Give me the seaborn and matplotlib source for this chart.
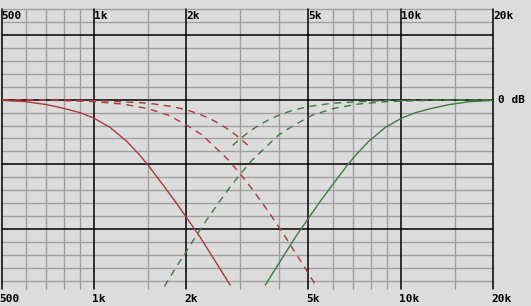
import matplotlib
matplotlib.use("Agg")
import matplotlib.pyplot as plt
import seaborn as sns
import pandas as pd
from matplotlib.ticker import NullLocator
from matplotlib.transforms import blended_transform_factory, offset_copy

# ---- data (frequency in Hz, level in dB) ----
lp_solid_hz = [500, 600, 700, 800, 900, 1000, 1130, 1280, 1400, 1500, 1680, 1850, 2000, 2220, 2440, 2780]
lp_solid_db = [-0.1, -0.3, -0.75, -1.35, -2.0, -2.85, -4.3, -6.45, -8.4, -10.1, -13.2, -15.9, -18.2, -21.3, -24.4, -28.7]

hp_solid_hz = [3615, 4120, 4530, 5025, 5430, 5980, 6700, 7180, 7850, 8890, 10050, 11170, 12560, 14360, 16750, 20000]
hp_solid_db = [-28.7, -24.4, -21.3, -18.2, -15.9, -13.2, -10.1, -8.4, -6.45, -4.3, -2.85, -2.0, -1.35, -0.75, -0.3, -0.1]

lp_dash_a_hz = [500, 700, 1000, 1250, 1500, 1750, 2000, 2250, 2500, 2750, 3000, 3250, 3500, 3750,
                4000, 4250, 4500, 4750, 5000, 5200, 5300]
lp_dash_a_db = [-0.02, -0.07, -0.29, -0.69, -1.38, -2.4, -3.9, -5.44, -7.5, -9.37, -11.5, -13.6, -15.7, -17.7,
                -19.7, -21.6, -23.5, -25.2, -26.9, -28.2, -28.9]

hp_dash_a_hz = [1698, 1731, 1800, 1895, 2000, 2118, 2250, 2400, 2571, 2769, 3000, 3273, 3600, 4000,
                4500, 5143, 6000, 7200, 9000, 12860, 18000, 20000]
hp_dash_a_db = [-28.9, -28.2, -26.9, -25.2, -23.5, -21.6, -19.7, -17.7, -15.7, -13.6, -11.5, -9.37, -7.5, -5.44,
                -3.9, -2.4, -1.38, -0.69, -0.29, -0.07, -0.02, 0.0]

lp_dash_b_hz = [500, 1000, 1500, 1800, 2000, 2200, 2400, 2600, 2800, 3000, 3180]
lp_dash_b_db = [0.0, -0.1, -0.53, -1.06, -1.56, -2.2, -2.98, -3.89, -4.9, -6.02, -7.09]

hp_dash_b_hz = [2830, 3000, 3214, 3462, 3750, 4091, 4500, 5000, 6000, 9000, 18000, 20000]
hp_dash_b_db = [-7.09, -6.02, -4.9, -3.89, -2.98, -2.2, -1.56, -1.06, -0.53, -0.1, 0.0, 0.0]

major_hz = [500, 1000, 2000, 5000, 10000, 20000]
major_labels = ["500", "1k", "2k", "5k", "10k", "20k"]
minor_hz = [600, 700, 800, 900, 1500, 3000, 4000, 6000, 7000, 8000, 9000, 15000]
db_major = [10, 0, -10, -20]
db_minor = [14, 12, 8, 6, 4, 2, -2, -4, -6, -8, -12, -14, -16, -18, -22, -24, -26, -28]

BG = "#dcdcdc"
GRID = "#a0a0a0"
RED = "#a83a3a"
GREEN = "#3c7c3c"

W, H = 531, 306
sns.set_theme(style="white")
plt.rcParams["font.family"] = ["DejaVu Sans Mono"]

fig = plt.figure(figsize=(W / 100, H / 100), dpi=100, facecolor=BG)
left, right, top, bottom = 1.5, 493.3, 9.3, 289.3
ax = fig.add_axes([left / W, 1 - bottom / H, (right - left) / W, (bottom - top) / H])
ax.set_facecolor(BG)
ax.set_xscale("log")
ax.set_xlim(500, 20000)
ax.set_ylim(-29.35, 14)
for s in ax.spines.values():
    s.set_visible(False)
for axis in (ax.xaxis, ax.yaxis):
    axis.set_major_locator(NullLocator())
    axis.set_minor_locator(NullLocator())

for f in minor_hz:
    ax.axvline(f, color=GRID, lw=1.0, zorder=1, clip_on=False)
for d in db_minor:
    ax.axhline(d, color=GRID, lw=1.0, zorder=1, clip_on=False)
for f in major_hz:
    ax.axvline(f, color="black", lw=1.1, zorder=2, clip_on=False)
for d in db_major:
    ax.axhline(d, color="black", lw=1.1, zorder=2, clip_on=False)

series = [
    (lp_solid_hz, lp_solid_db, RED, "-"),
    (hp_solid_hz, hp_solid_db, GREEN, "-"),
    (lp_dash_a_hz, lp_dash_a_db, RED, (0, (5, 4))),
    (hp_dash_a_hz, hp_dash_a_db, GREEN, (0, (5, 4))),
    (lp_dash_b_hz, lp_dash_b_db, RED, (0, (5, 4))),
    (hp_dash_b_hz, hp_dash_b_db, GREEN, (0, (5, 4))),
]
for hz, db, col, ls in series:
    df = pd.DataFrame({"hz": hz, "db": db})
    sns.lineplot(data=df, x="hz", y="db", ax=ax, color=col, linestyle=ls,
                 lw=1.0, estimator=None, sort=False, zorder=3)
ax.set_xlabel("")
ax.set_ylabel("")

trans = blended_transform_factory(ax.transData, fig.transFigure)
top_tr = offset_copy(trans, fig=fig, x=0, y=0, units="dots")
bot_tr = offset_copy(trans, fig=fig, x=-2, y=0, units="dots")
for f, lab in zip(major_hz, major_labels):
    ax.text(f, 1 - 15.8 / H, lab, transform=top_tr, ha="left", va="center",
            fontsize=8, fontweight="bold", color="black", clip_on=False)
    ax.text(f, 1 - 299 / H, lab, transform=bot_tr, ha="left", va="center",
            fontsize=8, fontweight="bold", color="black", clip_on=False)

db_trans = offset_copy(blended_transform_factory(ax.transAxes, ax.transData),
                       fig=fig, x=5, y=0, units="dots")
ax.text(1, 0, "0 dB", transform=db_trans, ha="left", va="center",
        fontsize=8, fontweight="bold", color="black", clip_on=False)

fig.savefig("out.png", dpi=100, facecolor=BG)
